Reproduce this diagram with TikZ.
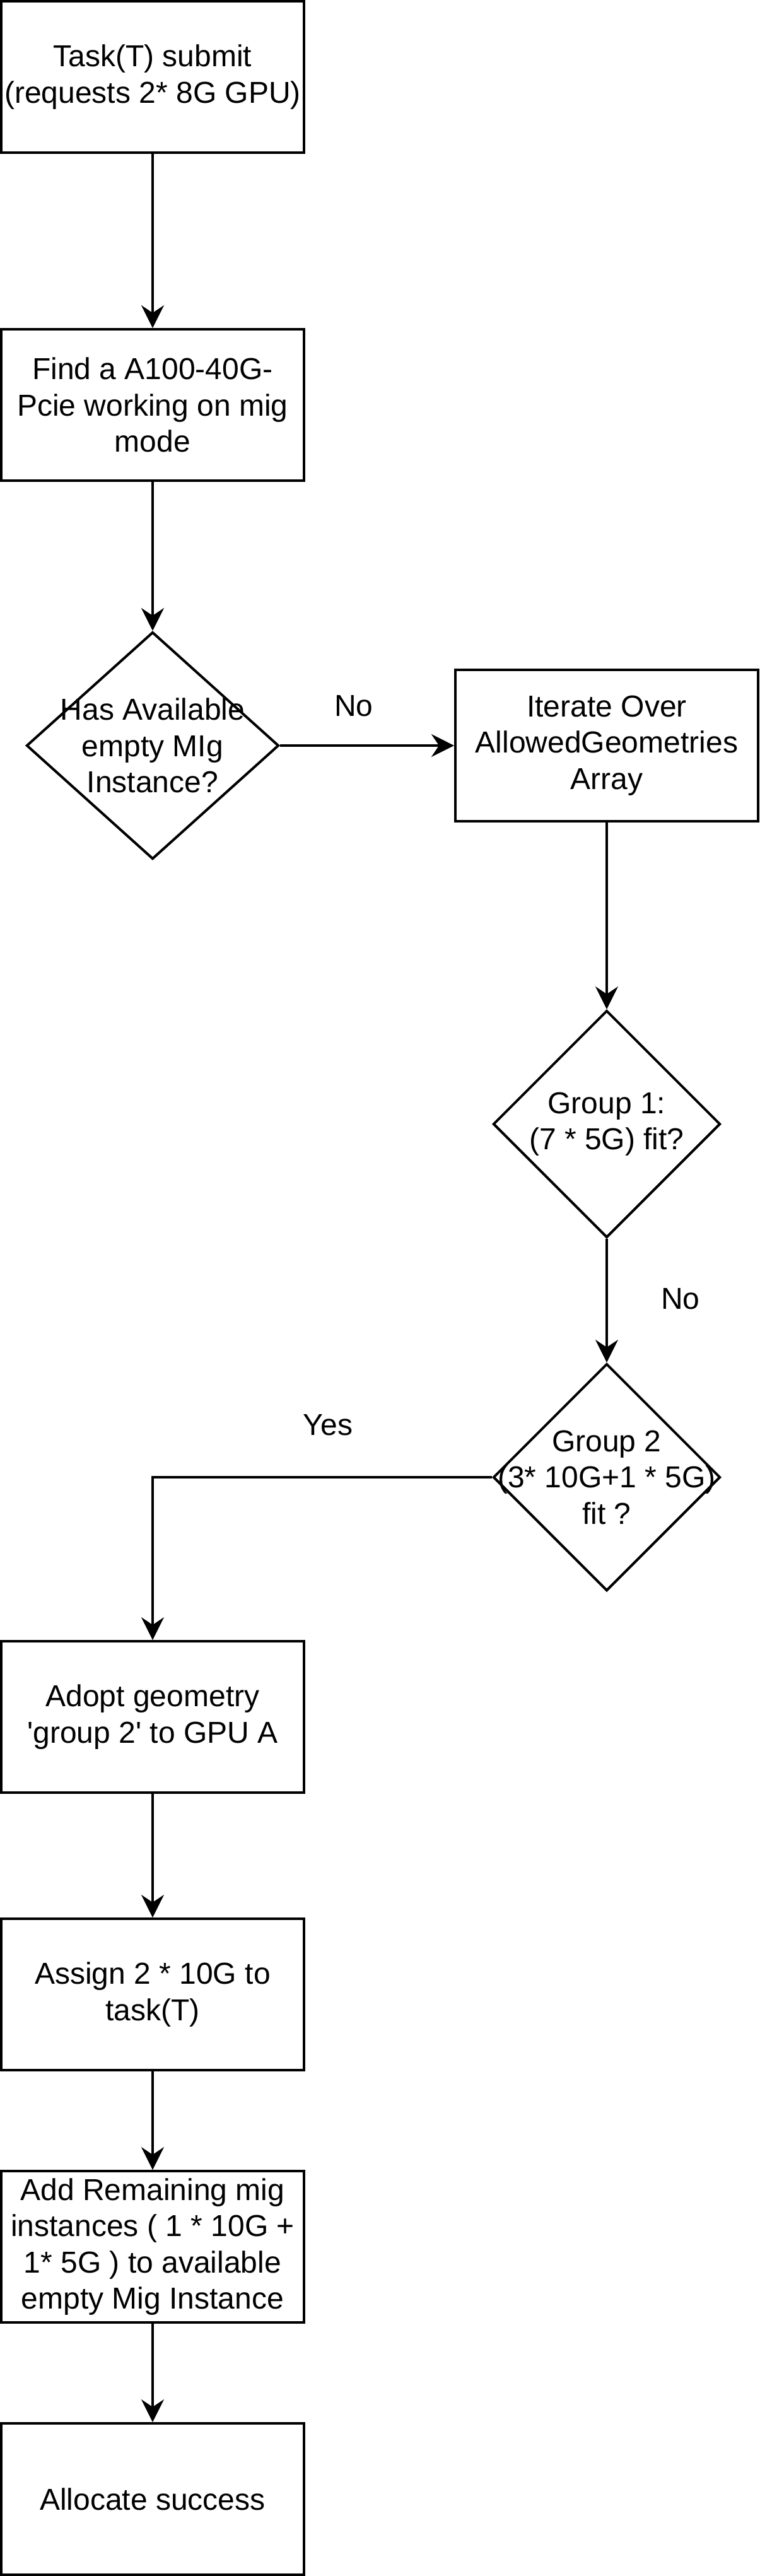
\documentclass[tikz,border=0pt]{standalone}
\usepackage{fontspec}
\setmainfont{Liberation Sans}
\usepackage{tikz}
\usetikzlibrary{shapes, arrows.meta, positioning}

\begin{document}
\begin{tikzpicture}[>={Stealth[length=9pt, width=9pt, inset=3pt]}, x=1pt, y=1pt,
    procbox/.style={draw, line width=1pt, minimum width=120pt, minimum height=60pt,
        inner sep=0pt, align=center, font=\fontsize{12}{14.4}\selectfont},
    choice/.style={draw, diamond, line width=1pt, inner sep=0pt, minimum height=90pt},
    choicetext/.style={align=center, font=\fontsize{12}{14.4}\selectfont},
    flow/.style={->, line width=1pt}]

    \useasboundingbox (0,0) rectangle (301,-1021);

    % Left column
    \node[procbox] (submit) at (60.5,-30.5) {Task(T) submit\\(requests 2* 8G GPU)};
    \node[procbox] (findgpu) at (60.5,-160.5) {Find a A100-40G-\\Pcie working on mig\\mode};
    \node[choice, minimum width=100pt,
        label={[choicetext]center:Has Available\\empty MIg\\Instance?}] (hasmig) at (60.5,-295.5) {};

    % Right column
    \node[procbox] (iterate) at (240.5,-295.5) {Iterate Over\\AllowedGeometries\\Array};
    \node[choice, minimum width=90pt,
        label={[choicetext]center:Group 1:\\(7 * 5G) fit?}] (groupone) at (240.5,-445.5) {};
    \node[choice, minimum width=90pt,
        label={[choicetext]center:Group 2\\(3* 10G+1 * 5G)\\fit ?}] (grouptwo) at (240.5,-585.5) {};

    % Bottom steps
    \node[procbox] (adopt) at (60.5,-680.5) {Adopt geometry\\\textquotesingle group 2\textquotesingle{} to GPU A};
    \node[procbox] (assign) at (60.5,-790.5) {Assign 2 * 10G to\\task(T)};
    \node[procbox] (addrest) at (60.5,-890.5) {Add Remaining mig\\instances ( 1 * 10G +\\1* 5G ) to available\\empty Mig Instance};
    \node[procbox] (success) at (60.5,-990.5) {Allocate success};

    % Arrows
    \draw[flow] (submit) -- (findgpu);
    \draw[flow] (findgpu) -- (hasmig);
    \draw[flow] (hasmig) -- (iterate);
    \draw[flow] (iterate) -- (groupone);
    \draw[flow] (groupone) -- (grouptwo);
    \draw[flow] (grouptwo.west) -| (adopt.north);
    \draw[flow] (adopt) -- (assign);
    \draw[flow] (assign) -- (addrest);
    \draw[flow] (addrest) -- (success);

    % Edge labels
    \node[choicetext] (nofirst) at (140.25,-279.8) {No};
    \node[choicetext] (nosecond) at (269.75,-514.75) {No};
    \node[choicetext] (yesgroup) at (130,-564.75) {Yes};
\end{tikzpicture}
\end{document}
